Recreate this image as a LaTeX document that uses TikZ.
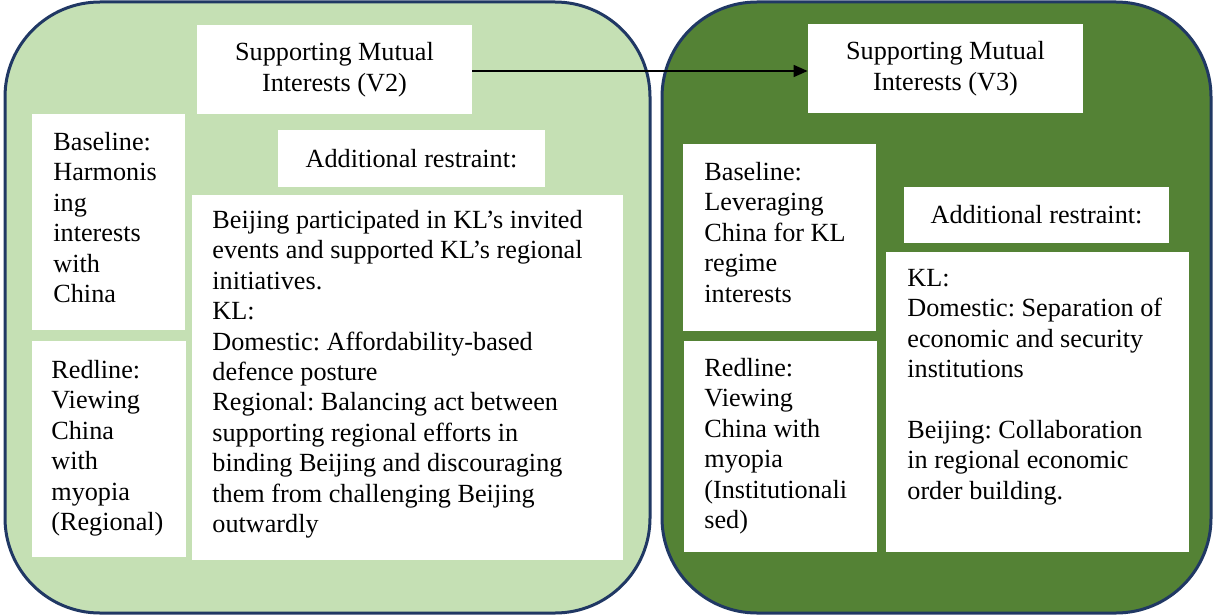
\documentclass[tikz,border=0pt]{standalone}
\usepackage{fontspec}
\setmainfont{Liberation Serif}
\usetikzlibrary{arrows.meta}
\frenchspacing
\definecolor{lightgreen}{HTML}{C5E0B4}
\definecolor{darkgreen}{HTML}{548235}
\definecolor{navyborder}{HTML}{203864}
\tikzset{
  panel/.style={draw=navyborder, line width=1.5pt, rounded corners=47.5pt},
  wbox/.style={fill=white, draw=none, inner sep=0pt, align=center,
    font=\fontsize{13.1}{15.2}\selectfont},
  txt/.style={anchor=north west, inner sep=0pt, align=left,
    font=\fontsize{13.1}{15.2}\selectfont},
  link/.style={draw=black, line width=0.75pt, -{Triangle[length=7pt,width=6pt]}}
}
\begin{document}
\begin{tikzpicture}[x=0.5pt,y=-0.5pt]
\useasboundingbox (0,0) rectangle (1213,615);
% panels
\path[panel, fill=lightgreen] (5,2) rectangle (650,613);
\path[panel, fill=darkgreen] (662,2) rectangle (1211,613);
% left panel boxes
\node[wbox, minimum width=137.5pt, minimum height=44.5pt] (v2) at (334.5,69.5) {Supporting Mutual\\Interests (V2)};
\node[wbox, minimum width=76.5pt, minimum height=108pt] (bl) at (108.5,222) {};
\node[txt] (blt) at (53,132) {Baseline:\\Harmonis\\ing\\interests\\with\\China};
\node[wbox, minimum width=77pt, minimum height=108pt] (rl) at (109,449) {};
\node[txt] (rlt) at (51,360) {Redline:\\Viewing\\China\\with\\myopia\\(Regional)};
\node[wbox, minimum width=133.5pt, minimum height=28.5pt] (al) at (411.5,158.5) {Additional restraint:};
\node[wbox, minimum width=215.5pt, minimum height=182.5pt] (tl) at (407.5,377.5) {};
\node[txt] (tlt) at (212,210) {Beijing participated in KL’s invited\\events and supported KL’s regional\\initiatives.\\KL:\\Domestic: Affordability-based\\defence posture\\Regional: Balancing act between\\supporting regional efforts in\\binding Beijing and discouraging\\them from challenging Beijing\\outwardly};
% right panel boxes
\node[wbox, minimum width=137.5pt, minimum height=44.5pt] (v3) at (945.5,68.5) {Supporting Mutual\\Interests (V3)};
\node[wbox, minimum width=96.5pt, minimum height=93.5pt] (br) at (779.5,237.5) {};
\node[txt] (brt) at (704,162) {Baseline:\\Leveraging\\China for KL\\regime\\interests};
\node[wbox, minimum width=96.5pt, minimum height=105.5pt] (rr) at (780.5,446.5) {};
\node[txt] (rrt) at (704,358) {Redline:\\Viewing\\China with\\myopia\\(Institutionali\\sed)};
\node[wbox, minimum width=132.5pt, minimum height=28pt] (ar) at (1036.5,215) {Additional restraint:};
\node[wbox, minimum width=151.5pt, minimum height=150pt] (tr) at (1037.5,402) {};
\node[txt] (trt) at (907,269) {KL:\\Domestic: Separation of\\economic and security\\institutions\\[15.2pt]Beijing: Collaboration\\in regional economic\\order building.};
% connector
\draw[link] ([yshift=-0.75pt]v2.east) -- ([yshift=-0.75pt]v2.east -| v3.west);
\end{tikzpicture}
\end{document}
